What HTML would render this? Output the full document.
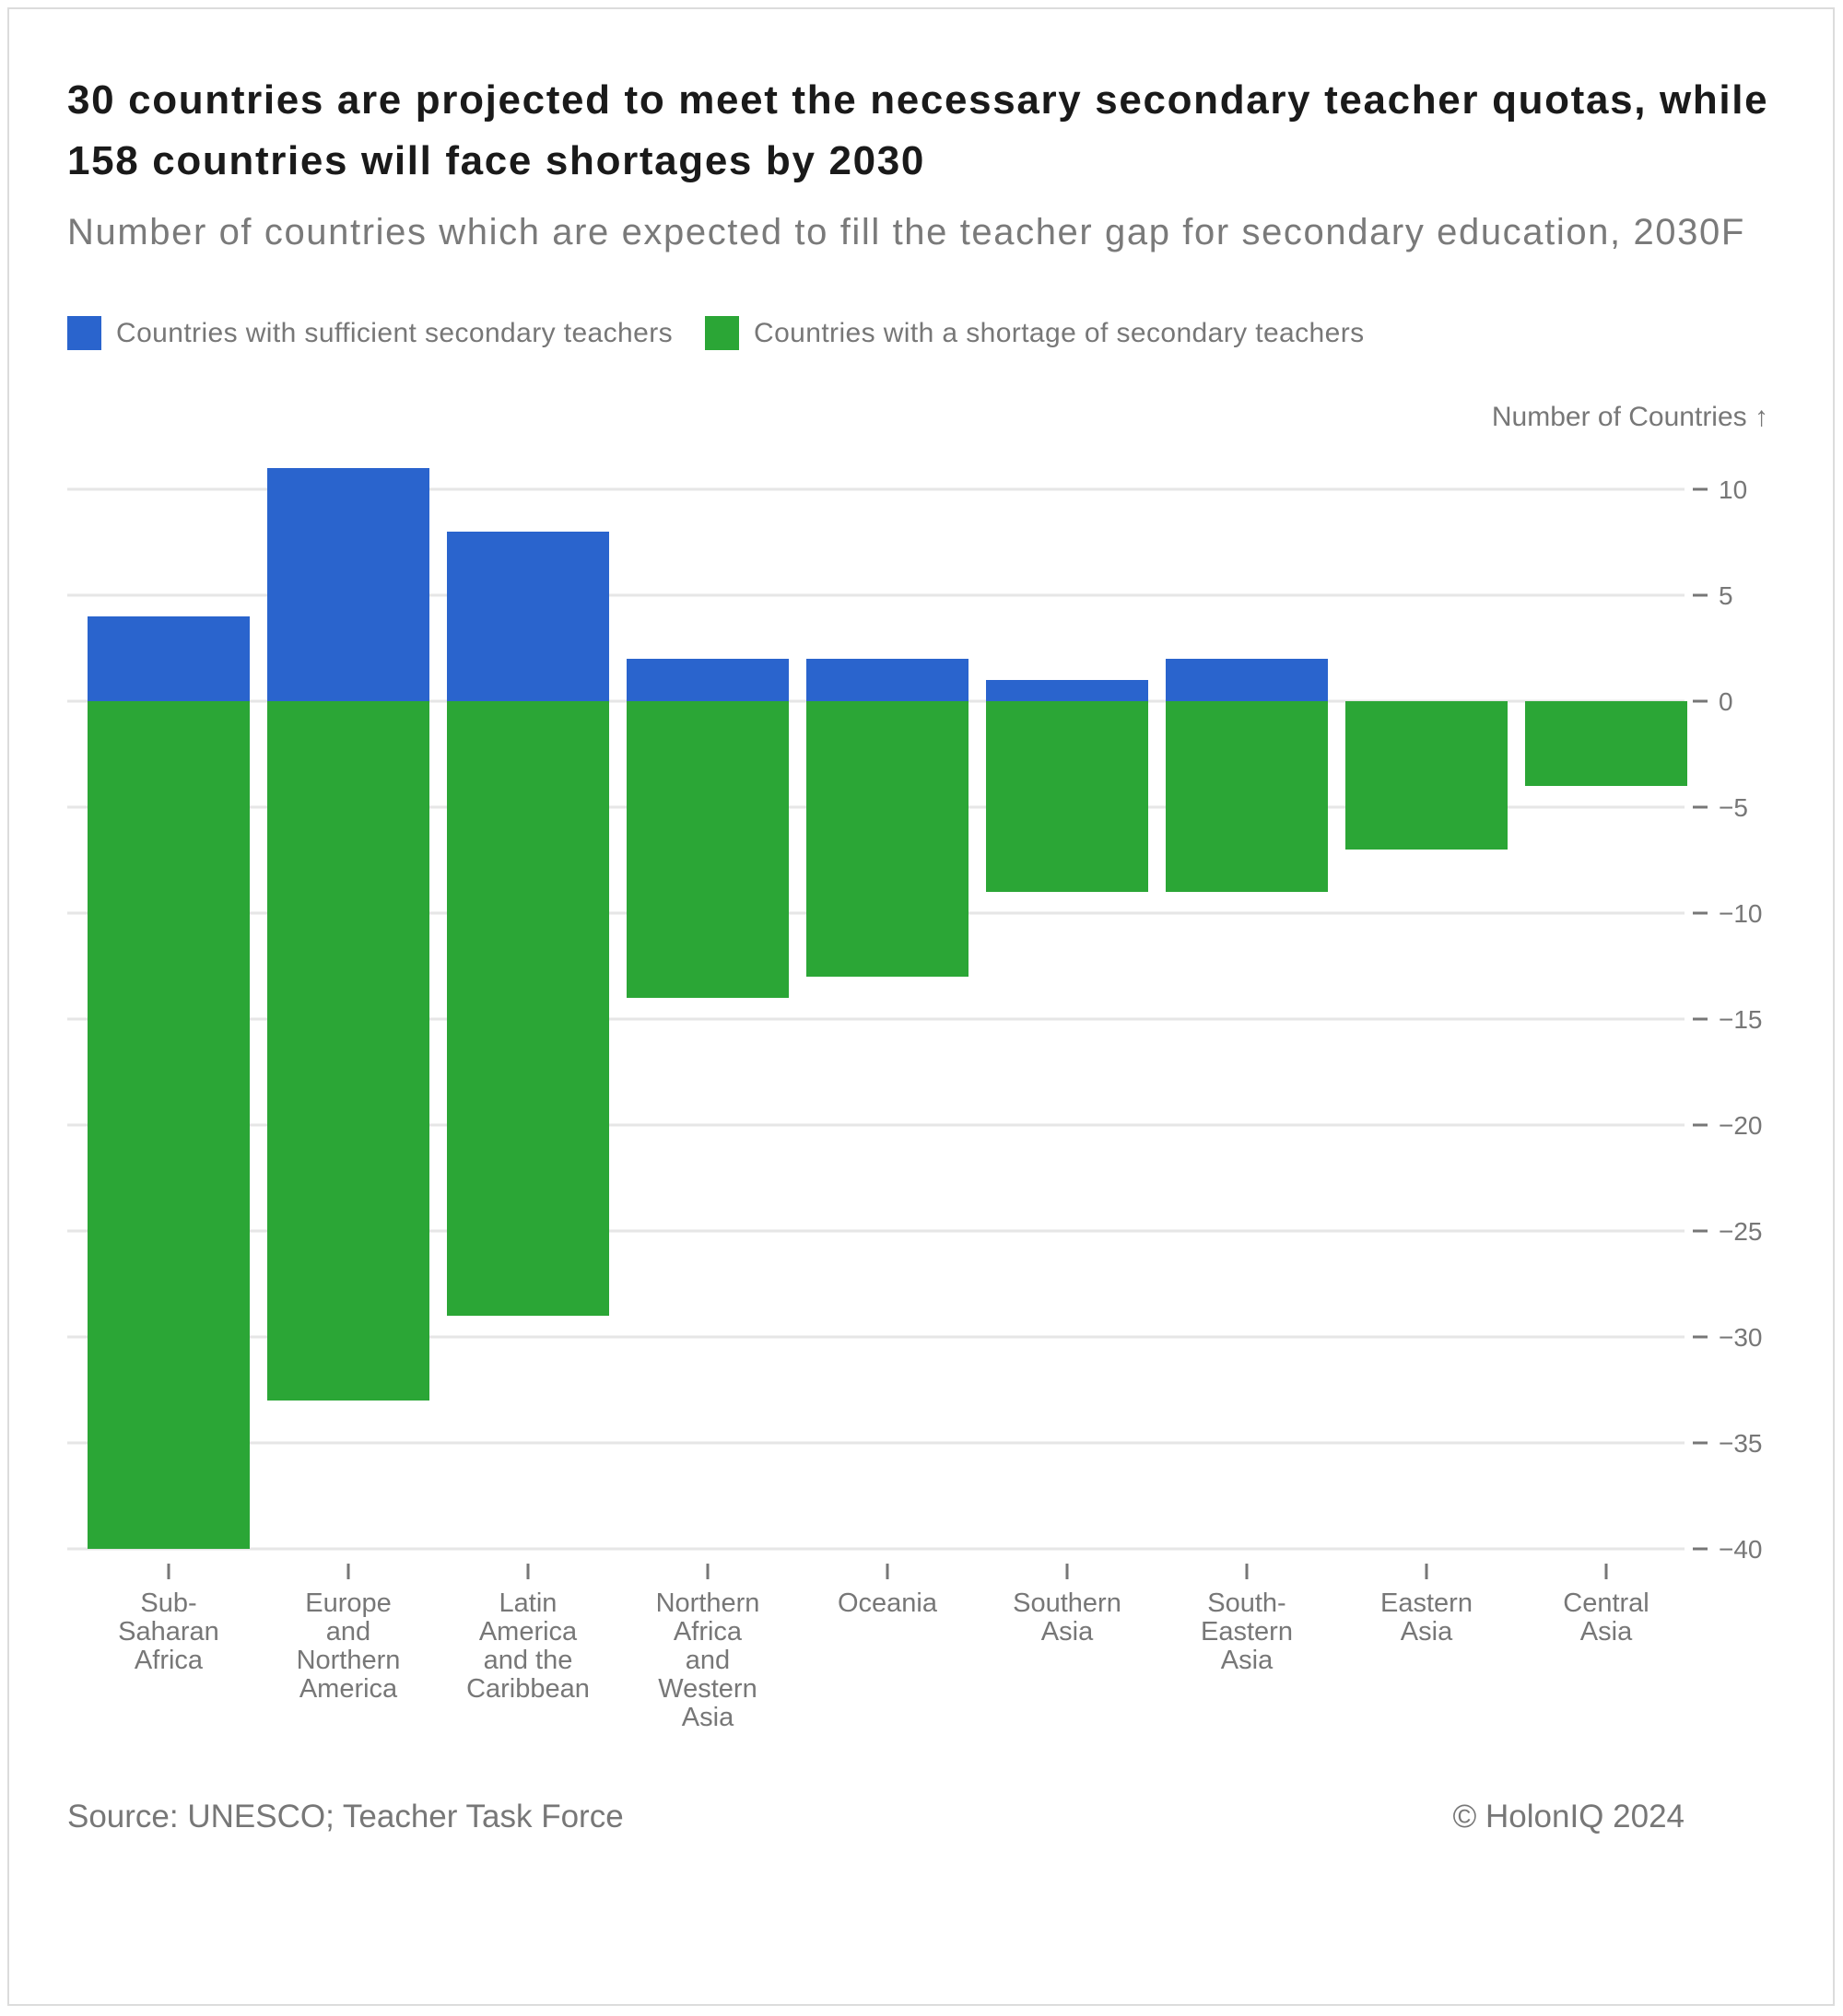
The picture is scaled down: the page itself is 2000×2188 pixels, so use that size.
<!DOCTYPE html>
<html><head><meta charset="utf-8">
<style>
html,body{margin:0;padding:0;background:#fff;}
body{width:2000px;height:2188px;position:relative;font-family:"Liberation Sans",sans-serif;overflow:hidden;}
.frame{position:absolute;left:8px;top:8px;width:1983px;height:2169px;border:2px solid #dcdcdc;box-sizing:border-box;}
.title{position:absolute;left:73px;top:76px;font-size:44px;font-weight:bold;color:#1a1a1a;line-height:66px;white-space:nowrap;letter-spacing:1.65px;}
.sub{position:absolute;left:73px;top:230px;font-size:40px;color:#7a7a7a;white-space:nowrap;letter-spacing:1.6px;}
.leg{position:absolute;top:343px;height:37px;display:flex;align-items:center;font-size:30px;color:#777;white-space:nowrap;}
.sw{width:37px;height:37px;margin-right:16px;}
.foot{position:absolute;top:1952px;font-size:35px;color:#777;}
</style></head>
<body>
<div class="frame"></div>
<div class="title">30 countries are projected to meet the necessary secondary teacher quotas, while<br>158 countries will face shortages by 2030</div>
<div class="sub">Number of countries which are expected to fill the teacher gap for secondary education, 2030F</div>
<div class="leg" style="left:73px;letter-spacing:0.4px"><div class="sw" style="background:#2a64cd"></div>Countries with sufficient secondary teachers</div>
<div class="leg" style="left:765px;letter-spacing:0.4px"><div class="sw" style="background:#2ba636"></div>Countries with a shortage of secondary teachers</div>
<svg id="chart" width="2000" height="2188" style="position:absolute;left:0;top:0"></svg>
<div class="foot" style="left:73px">Source: UNESCO; Teacher Task Force</div>
<div class="foot" style="right:172px">© HolonIQ 2024</div>
<script>
const categories = [["Sub-","Saharan","Africa"],["Europe","and","Northern","America"],["Latin","America","and the","Caribbean"],["Northern","Africa","and","Western","Asia"],["Oceania"],["Southern","Asia"],["South-","Eastern","Asia"],["Eastern","Asia"],["Central","Asia"]];
const sufficient = [4,11,8,2,2,1,2,0,0];
const shortage = [-40,-33,-29,-14,-13,-9,-9,-7,-4];
const yTicks = [10,5,0,-5,-10,-15,-20,-25,-30,-35,-40];

const NS="http://www.w3.org/2000/svg";
const svg=document.getElementById('chart');
function y(v){return 761 - v*23;}
function xc(i){return 183 + i*195;}
const BW=176;
function mk(tag,attrs){const e=document.createElementNS(NS,tag);for(const k in attrs)e.setAttribute(k,attrs[k]);svg.appendChild(e);return e;}

yTicks.forEach(t=>{
  const g=mk('line',{x1:73,x2:1828,y1:y(t),y2:y(t),stroke:'#e6e6e6','stroke-width':3});
  
  
  const tk=mk('line',{x1:1837,x2:1853,y1:y(t),y2:y(t),stroke:'#777','stroke-width':3});
  
  
  const tx=mk('text',{x:1865,y:y(t)+10,'font-size':28,fill:'#777','font-family':'Liberation Sans, sans-serif'});
  tx.textContent=t<0?'\u2212'+Math.abs(t):String(t);
  
  
});
const at=mk('text',{x:1919,y:462,'font-size':30,fill:'#777','text-anchor':'end','font-family':'Liberation Sans, sans-serif'});
at.textContent='Number of Countries \u2191';



categories.forEach((c,i)=>{
  const b=mk('rect',{x:xc(i)-BW/2,y:y(sufficient[i]),width:BW,height:y(0)-y(sufficient[i]),fill:'#2a64cd'});
  
  
  const g=mk('rect',{x:xc(i)-BW/2,y:y(0),width:BW,height:y(shortage[i])-y(0),fill:'#2ba636'});
  
  
  const tk=mk('line',{x1:xc(i),x2:xc(i),y1:1697,y2:1714,stroke:'#777','stroke-width':3});
  
  
  const tx=mk('text',{x:xc(i),y:1749,'font-size':29,fill:'#777','text-anchor':'middle','font-family':'Liberation Sans, sans-serif'});
  
  
  c.forEach((l,j)=>{const s=document.createElementNS(NS,'tspan');s.setAttribute('x',xc(i));s.setAttribute('y',1749+j*31);s.textContent=l;tx.appendChild(s);});
});
</script>
</body></html>
